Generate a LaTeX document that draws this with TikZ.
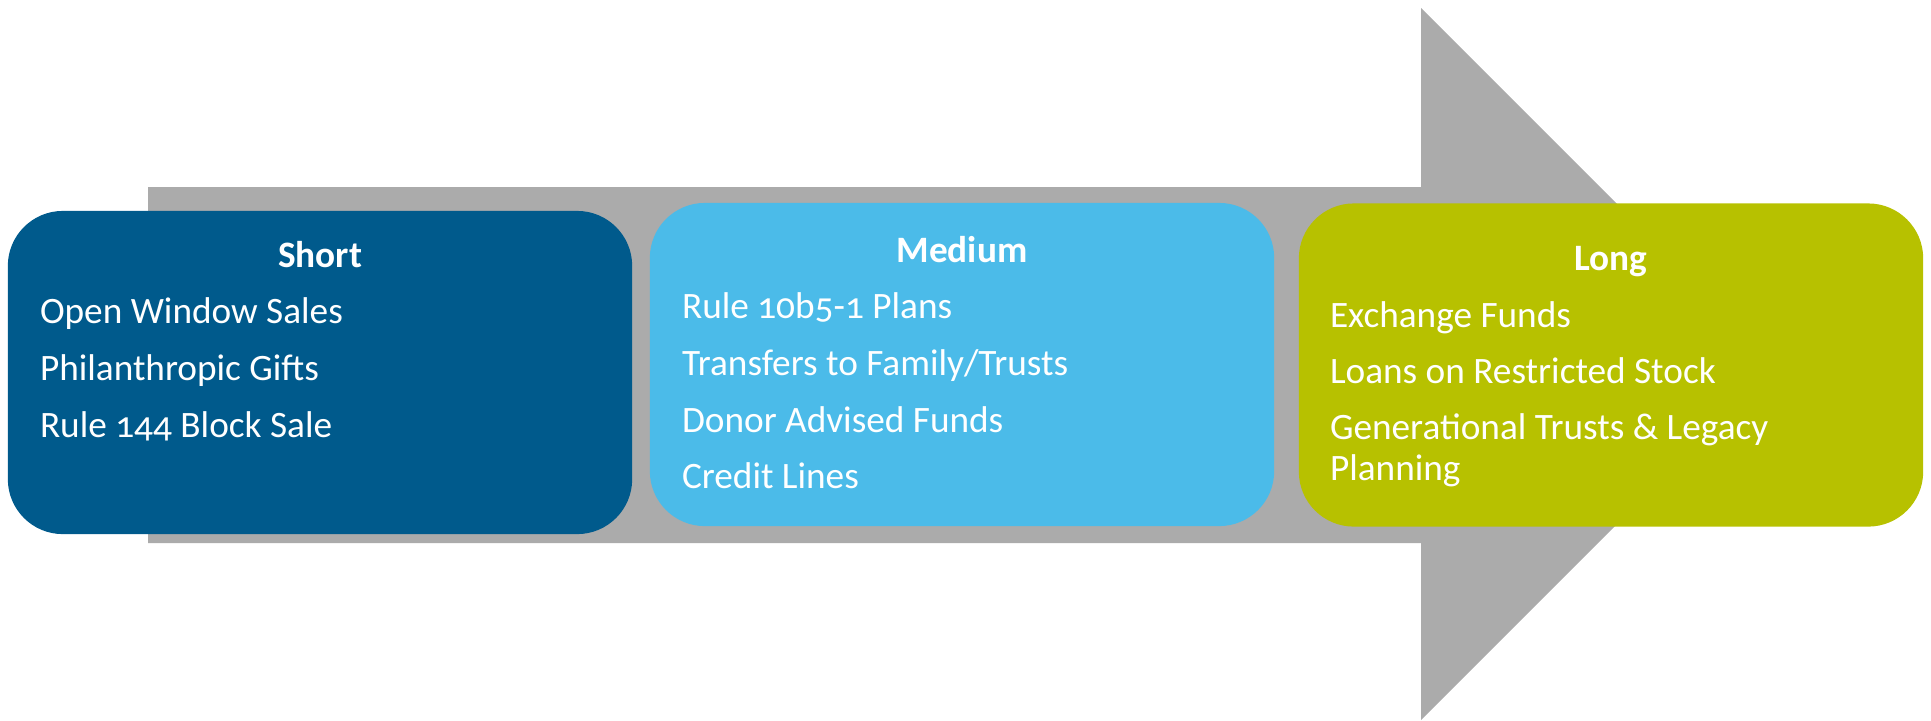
\documentclass[tikz,border=0pt]{standalone}
\usepackage{fontspec}
\setmainfont{Carlito}[Numbers=OldStyle]
\usetikzlibrary{positioning}
\definecolor{shortblue}{HTML}{005A8C}
\definecolor{mediumblue}{HTML}{4BBBE9}
\definecolor{longgreen}{HTML}{B7C100}
\definecolor{arrowgray}{HTML}{ABABAB}

\begin{document}
\begin{tikzpicture}[x=0.01cm,y=-0.01cm]
\tikzstyle{every node}=[inner sep=0pt, outer sep=0pt]
\tikzstyle{box}=[rectangle, rounded corners=0.55cm, minimum width=6.24cm, minimum height=3.23cm]
\tikzstyle{title}=[anchor=base, text=white, font=\fontsize{10.6}{12.6}\selectfont\bfseries]
\tikzstyle{item}=[anchor=base west, text=white, align=left, font=\fontsize{10.6}{11.4}\selectfont]
\useasboundingbox (0,0) rectangle (1931,720);
% big gray arrow behind the boxes
\fill[arrowgray] (148,187) -- (1421,187) -- (1421,8) -- (1777,364)
  -- (1421,720) -- (1421,543) -- (148,543) -- cycle;
% the three boxes
\draw (320,372.5) node (short) [box,fill=shortblue] {};
\draw (962,364.5) node (medium) [box,fill=mediumblue] {};
\draw (1611,365) node (long) [box,fill=longgreen] {};
% titles
\draw (320,267) node (shorttitle) [title] {Short};
\draw (962,262) node (mediumtitle) [title] {Medium};
\draw (1611,270) node (longtitle) [title] {Long};
% items (y is the baseline of the last line)
\foreach \y/\txt [count=\i] in {323/Open Window Sales, 380/Philanthropic Gifts, 437/Rule 144 Block Sale}
  \draw (40,\y) node (shortitem\i) [item] {\txt};
\foreach \y/\txt [count=\i] in {318/Rule 10b5-1 Plans, 375/{Transfers to Family/Trusts}, 432/Donor Advised Funds, 488/Credit Lines}
  \draw (682,\y) node (mediumitem\i) [item] {\txt};
\foreach \y/\txt [count=\i] in {327/Exchange Funds, 383/Loans on Restricted Stock, 480/{Generational Trusts \& Legacy\\Planning}}
  \draw (1330,\y) node (longitem\i) [item] {\txt};
\end{tikzpicture}
\end{document}
